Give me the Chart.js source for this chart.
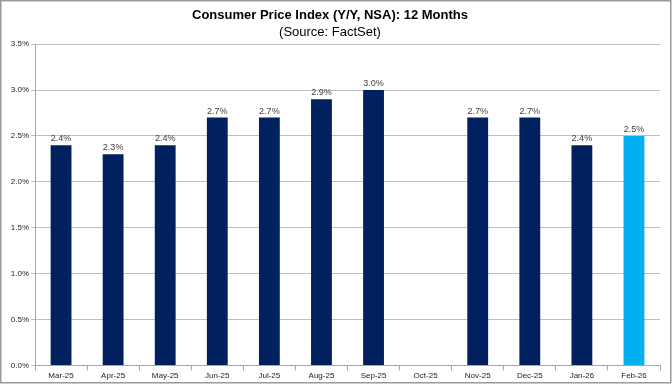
<!DOCTYPE html>
<html>
<head>
<meta charset="utf-8">
<script src="https://cdn.jsdelivr.net/npm/chart.js"></script>
<style>
  html, body { margin: 0; padding: 0; background: #fff; }
  #wrap { width: 672px; height: 384px; position: relative; }
</style>
</head>
<body>
<div id="wrap"><canvas id="cpi"></canvas></div>
<script>
// chart data
const months = ['Mar-25', 'Apr-25', 'May-25', 'Jun-25', 'Jul-25', 'Aug-25', 'Sep-25',
                'Oct-25', 'Nov-25', 'Dec-25', 'Jan-26', 'Feb-26'];
const cpiYoY = [2.4, 2.3, 2.4, 2.7, 2.7, 2.9, 3.0, null, 2.7, 2.7, 2.4, 2.5];
const titleText = 'Consumer Price Index (Y/Y, NSA): 12 Months';
const subtitleText = '(Source: FactSet)';

const NAVY = '#002060';
const LIGHT = '#00b0f0';
const barColors = cpiYoY.map((v, i) => i === cpiYoY.length - 1 ? LIGHT : NAVY);

// white background + thin grey frame round the picture
const frame = {
    id: 'frame',
    beforeDraw(chart) {
        const ctx = chart.ctx;
        ctx.save();
        ctx.fillStyle = '#fff';
        ctx.fillRect(0, 0, chart.width, chart.height);
        ctx.restore();
    },
    afterDraw(chart) {
        const ctx = chart.ctx;
        ctx.save();
        ctx.strokeStyle = '#9a9a9a';
        ctx.lineWidth = 1.5;
        ctx.strokeRect(0.75, 0.75, chart.width - 2, chart.height - 2);
        ctx.restore();
    }
};

// value labels above each bar
const barLabels = {
    id: 'barLabels',
    afterDatasetsDraw(chart) {
        const ctx = chart.ctx;
        const meta = chart.getDatasetMeta(0);
        ctx.save();
        ctx.font = '9px "Liberation Sans", Arial, sans-serif';
        ctx.fillStyle = '#404040';
        ctx.textAlign = 'center';
        ctx.textBaseline = 'bottom';
        meta.data.forEach((bar, i) => {
            const v = cpiYoY[i];
            if (v == null) return;
            ctx.fillText(v.toFixed(1) + '%', bar.x, bar.y - 2);
        });
        ctx.restore();
    }
};

new Chart(document.getElementById('cpi'), {
    type: 'bar',
    data: {
        labels: months,
        datasets: [{
            data: cpiYoY,
            backgroundColor: barColors,
            borderWidth: 0,
            barPercentage: 0.8,
            categoryPercentage: 0.5
        }]
    },
    options: {
        responsive: true,
        maintainAspectRatio: false,
        animation: false,
        layout: { padding: { left: 0, right: 12, top: 0, bottom: 2 } },
        plugins: {
            legend: { display: false },
            tooltip: { enabled: false },
            title: {
                display: true,
                text: titleText,
                color: '#000',
                font: { family: '"Liberation Sans", Arial, sans-serif', size: 13, weight: 'bold' },
                padding: { top: 8, bottom: 1 }
            },
            subtitle: {
                display: true,
                text: subtitleText,
                color: '#000',
                font: { family: '"Liberation Sans", Arial, sans-serif', size: 13 },
                padding: { top: 0, bottom: 4 }
            }
        },
        scales: {
            x: {
                offset: true,
                grid: {
                    offset: true,
                    drawOnChartArea: false,
                    drawTicks: true,
                    tickLength: 5,
                    color: '#a6a6a6'
                },
                border: { color: '#a6a6a6' },
                ticks: {
                    color: '#222',
                    font: { family: '"Liberation Sans", Arial, sans-serif', size: 8 },
                    maxRotation: 0,
                    autoSkip: false,
                    padding: 1
                }
            },
            y: {
                min: 0,
                max: 3.5,
                afterFit(scale) { scale.width = 35; },
                grid: {
                    color: '#bfbfbf',
                    tickLength: 4,
                    drawTicks: true
                },
                border: { color: '#a6a6a6' },
                ticks: {
                    stepSize: 0.5,
                    color: '#222',
                    padding: 2,
                    font: { family: '"Liberation Sans", Arial, sans-serif', size: 8 },
                    callback: v => v.toFixed(1) + '%'
                }
            }
        }
    },
    plugins: [frame, barLabels]
});
</script>
</body>
</html>
